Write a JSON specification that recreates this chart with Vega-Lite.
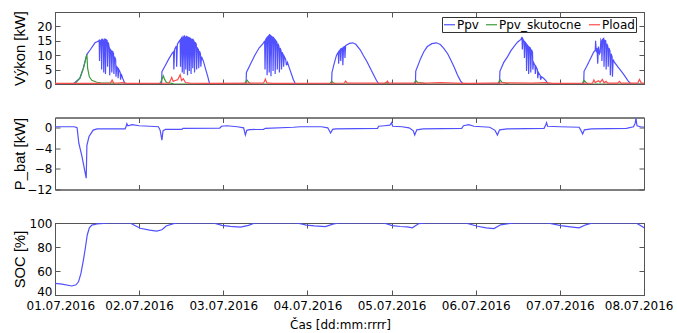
{
"$schema": "https://vega.github.io/schema/vega-lite/v6.json",
"background": "white",
"padding": {"left": 11, "top": 10, "right": 0, "bottom": 0},
"spacing": 33.5,
"bounds": "flush",
"config": {
 "view": {"stroke": "#555555", "strokeWidth": 1},
 "axis": {"domainColor": "#555555", "tickColor": "#555555", "tickSize": -5, "labelPadding": 8, "grid": false, "labelFont": "DejaVu Sans", "labelFontSize": 12, "labelColor": "black", "titleFont": "Liberation Sans", "titleFontSize": 14.8, "titleFontWeight": "normal", "titleColor": "black", "labelFlush": false, "labelOverlap": false},
 "line": {"strokeWidth": 1.2}
},
"datasets": {
 "pv": [{"h":0,"v":0},{"h":5.2,"v":0},{"h":7.1,"v":2},{"h":8.1,"v":5.5},{"h":8.9,"v":9.4},{"h":9.1,"v":10.3},{"h":10.0,"v":11.8},{"h":11.4,"v":14.3},{"h":12.3,"v":14.8},{"h":12.6,"v":15.2},{"h":12.7,"v":8},{"h":12.9,"v":15},{"h":13.2,"v":15.3},{"h":13.3,"v":5},{"h":13.5,"v":15.5},{"h":13.8,"v":15.2},{"h":13.9,"v":4},{"h":14.1,"v":15.6},{"h":14.3,"v":15.5},{"h":14.4,"v":3.5},{"h":14.6,"v":15.4},{"h":14.9,"v":15},{"h":15.0,"v":6},{"h":15.2,"v":14.5},{"h":15.5,"v":12.5},{"h":15.6,"v":3},{"h":15.8,"v":12},{"h":16.1,"v":11.5},{"h":16.2,"v":4},{"h":16.4,"v":11.5},{"h":16.7,"v":10.5},{"h":16.8,"v":3.5},{"h":17.0,"v":9.5},{"h":17.3,"v":8.5},{"h":17.4,"v":2.5},{"h":17.6,"v":6},{"h":17.9,"v":5.5},{"h":18.0,"v":2},{"h":18.2,"v":5},{"h":18.6,"v":4},{"h":18.7,"v":1.5},{"h":18.9,"v":3.5},{"h":19.3,"v":2},{"h":20.0,"v":0},
 {"h":30.4,"v":0},{"h":30.5,"v":4.3},{"h":31.5,"v":6.5},{"h":32.5,"v":8.8},{"h":33.5,"v":10.8},{"h":33.8,"v":11.2},{"h":33.9,"v":5},{"h":34.1,"v":12},{"h":34.6,"v":13.2},{"h":34.7,"v":6},{"h":34.9,"v":13.8},{"h":35.4,"v":14.8},{"h":35.7,"v":15.3},{"h":35.8,"v":6},{"h":36.0,"v":15.8},{"h":36.2,"v":16.2},{"h":36.3,"v":4},{"h":36.5,"v":16},{"h":36.7,"v":16.4},{"h":36.8,"v":3.5},{"h":37.0,"v":16.5},{"h":37.2,"v":16.2},{"h":37.3,"v":5},{"h":37.5,"v":16.5},{"h":37.7,"v":16.3},{"h":37.8,"v":3},{"h":38.0,"v":16.2},{"h":38.2,"v":16},{"h":38.3,"v":4.5},{"h":38.5,"v":16},{"h":38.7,"v":15.8},{"h":38.8,"v":3.5},{"h":39.0,"v":15.5},{"h":39.2,"v":15.5},{"h":39.3,"v":5.5},{"h":39.5,"v":15.2},{"h":39.7,"v":14.8},{"h":39.8,"v":4},{"h":40.0,"v":14.5},{"h":40.3,"v":13.8},{"h":40.4,"v":5},{"h":40.6,"v":12.5},{"h":40.9,"v":12},{"h":41.0,"v":5.5},{"h":41.2,"v":11.5},{"h":41.5,"v":10.5},{"h":41.6,"v":6},{"h":41.8,"v":9.5},{"h":42.3,"v":8},{"h":43.0,"v":5},{"h":43.6,"v":2.5},{"h":44.1,"v":0},
 {"h":54.5,"v":0},{"h":54.6,"v":4},{"h":55.8,"v":7},{"h":57.0,"v":10},{"h":58.2,"v":12.5},{"h":59.5,"v":14.3},{"h":59.8,"v":15},{"h":59.9,"v":5},{"h":60.1,"v":15.5},{"h":60.4,"v":16},{"h":60.5,"v":3},{"h":60.7,"v":16.3},{"h":61.0,"v":16.8},{"h":61.1,"v":4},{"h":61.3,"v":17},{"h":61.5,"v":16.8},{"h":61.6,"v":2.7},{"h":61.8,"v":16.5},{"h":62.1,"v":16.2},{"h":62.2,"v":4.5},{"h":62.4,"v":16},{"h":62.7,"v":15.5},{"h":62.8,"v":3.5},{"h":63.0,"v":15},{"h":63.3,"v":14.5},{"h":63.4,"v":5},{"h":63.6,"v":14},{"h":63.9,"v":13},{"h":64.0,"v":4},{"h":64.2,"v":12.5},{"h":64.5,"v":11.5},{"h":64.6,"v":5},{"h":64.8,"v":11},{"h":65.1,"v":10},{"h":65.2,"v":6},{"h":65.4,"v":9.5},{"h":65.8,"v":8.5},{"h":66.0,"v":6.5},{"h":66.3,"v":7.5},{"h":67.0,"v":5},{"h":68.0,"v":1.5},{"h":68.6,"v":0},
 {"h":78.9,"v":0},{"h":79.0,"v":4},{"h":79.6,"v":7},{"h":80.3,"v":10},{"h":80.8,"v":11},{"h":80.9,"v":7},{"h":81.1,"v":11.5},{"h":81.4,"v":12},{"h":81.5,"v":8},{"h":81.7,"v":12.3},{"h":82.0,"v":12.5},{"h":82.1,"v":6.5},{"h":82.3,"v":12.8},{"h":82.6,"v":13},{"h":82.7,"v":9},{"h":82.9,"v":13.3},{"h":83.3,"v":13.6},{"h":84.0,"v":14.1},{"h":84.9,"v":14.3},{"h":85.8,"v":13.8},{"h":87.1,"v":11.8},{"h":88.0,"v":9.8},{"h":89.0,"v":7.7},{"h":90.0,"v":5.3},{"h":90.9,"v":3.1},{"h":91.7,"v":1.2},{"h":92.4,"v":0},
 {"h":102.8,"v":0},{"h":102.9,"v":4.5},{"h":104.3,"v":8.9},{"h":105.2,"v":11.2},{"h":106.2,"v":13},{"h":107.5,"v":14},{"h":108.8,"v":14.3},{"h":109.9,"v":13.7},{"h":110.9,"v":12.4},{"h":112.0,"v":10.5},{"h":112.9,"v":8.3},{"h":113.9,"v":5.7},{"h":114.8,"v":3.1},{"h":115.7,"v":1},{"h":116.4,"v":0},
 {"h":126.8,"v":0},{"h":126.9,"v":4.4},{"h":128.0,"v":7.5},{"h":129.1,"v":9.5},{"h":130.0,"v":11.5},{"h":130.9,"v":13},{"h":131.9,"v":14.5},{"h":132.9,"v":15.5},{"h":133.2,"v":16.3},{"h":133.3,"v":12},{"h":133.5,"v":15.5},{"h":133.8,"v":14.8},{"h":133.9,"v":9},{"h":134.1,"v":14.5},{"h":134.4,"v":14},{"h":134.5,"v":4.5},{"h":134.7,"v":13.5},{"h":135.0,"v":13},{"h":135.1,"v":3.5},{"h":135.3,"v":12.8},{"h":135.6,"v":12.5},{"h":135.7,"v":4},{"h":135.9,"v":12},{"h":136.2,"v":11},{"h":136.3,"v":5},{"h":136.5,"v":7.5},{"h":136.9,"v":6.5},{"h":137.0,"v":3.5},{"h":137.2,"v":6},{"h":137.6,"v":5},{"h":137.7,"v":2},{"h":137.9,"v":4},{"h":138.4,"v":3},{"h":138.5,"v":1.5},{"h":138.8,"v":2.5},{"h":139.5,"v":1.8},{"h":140.0,"v":1.2},{"h":140.7,"v":0},
 {"h":150.8,"v":0},{"h":150.9,"v":4.4},{"h":151.6,"v":6},{"h":152.3,"v":7.7},{"h":153.0,"v":9.5},{"h":153.6,"v":11},{"h":154.1,"v":11.8},{"h":154.2,"v":15},{"h":154.4,"v":11},{"h":154.6,"v":12.5},{"h":154.8,"v":7},{"h":155.0,"v":13},{"h":155.3,"v":10.5},{"h":155.5,"v":11},{"h":155.7,"v":15.3},{"h":155.9,"v":14.8},{"h":156.0,"v":8},{"h":156.2,"v":15.5},{"h":156.5,"v":15.8},{"h":156.6,"v":6},{"h":156.8,"v":15.2},{"h":157.1,"v":15},{"h":157.2,"v":5},{"h":157.4,"v":14},{"h":157.7,"v":13},{"h":157.8,"v":6},{"h":158.0,"v":12.5},{"h":158.3,"v":11.5},{"h":158.4,"v":3},{"h":158.6,"v":10.5},{"h":158.9,"v":9.5},{"h":159.0,"v":2.5},{"h":159.2,"v":8.5},{"h":159.6,"v":7.5},{"h":160.5,"v":6},{"h":161.5,"v":4.5},{"h":162.4,"v":3},{"h":163.4,"v":1.2},{"h":164.3,"v":0},{"h":168,"v":0}],
 "sk": [{"h":0,"v":0},{"h":5.2,"v":0},{"h":6.0,"v":0.5},{"h":7.1,"v":2},{"h":8.1,"v":5.5},{"h":8.9,"v":9.4},{"h":9.1,"v":10.3},{"h":9.3,"v":5.5},{"h":9.8,"v":2.5},{"h":10.5,"v":1.3},{"h":11.9,"v":0.6},{"h":13,"v":0.4},{"h":16.5,"v":0.3},{"h":17,"v":0},{"h":29.8,"v":0},{"h":30.3,"v":1},{"h":30.9,"v":2.8},{"h":31.3,"v":1.5},{"h":31.8,"v":0.5},{"h":33,"v":0.3},{"h":34,"v":0},{"h":54,"v":0},{"h":54.4,"v":0.8},{"h":54.8,"v":1.3},{"h":55.3,"v":0.5},{"h":56,"v":0},{"h":78.4,"v":0},{"h":78.9,"v":1},{"h":79.4,"v":0.4},{"h":80,"v":0},{"h":93.8,"v":0},{"h":94.5,"v":0.6},{"h":95.2,"v":0},{"h":102.3,"v":0},{"h":102.9,"v":1.2},{"h":103.5,"v":0.5},{"h":105,"v":0.3},{"h":106,"v":0},{"h":126.3,"v":0},{"h":126.9,"v":1.5},{"h":127.5,"v":0.6},{"h":128.5,"v":0.3},{"h":129.5,"v":0},{"h":150.3,"v":0},{"h":150.9,"v":1.3},{"h":151.5,"v":0.5},{"h":152,"v":0},{"h":168,"v":0}],
 "ld": [{"h":0,"v":0.2},{"h":12,"v":0.2},{"h":15.8,"v":0.3},{"h":16.3,"v":1.4},{"h":16.7,"v":0.4},{"h":18,"v":0.3},{"h":19.5,"v":0.5},{"h":20.5,"v":0.2},{"h":32.5,"v":0.3},{"h":33.0,"v":1.5},{"h":33.3,"v":2.3},{"h":33.7,"v":0.9},{"h":34.3,"v":1.2},{"h":35.0,"v":1.5},{"h":35.7,"v":3.2},{"h":36.1,"v":1.2},{"h":36.6,"v":1.8},{"h":37.2,"v":0.5},{"h":38.5,"v":0.3},{"h":44,"v":0.2},{"h":59.5,"v":0.3},{"h":60.0,"v":1.7},{"h":60.4,"v":0.4},{"h":62,"v":0.2},{"h":82.5,"v":0.3},{"h":82.9,"v":1},{"h":83.3,"v":0.3},{"h":94.5,"v":0.3},{"h":94.8,"v":1},{"h":95.2,"v":0.3},{"h":106,"v":0.3},{"h":110,"v":0.5},{"h":114,"v":0.3},{"h":118,"v":0.2},{"h":130,"v":0.4},{"h":136,"v":0.3},{"h":140,"v":0.5},{"h":142,"v":0.2},{"h":153.3,"v":0.3},{"h":153.7,"v":1.4},{"h":154.1,"v":0.5},{"h":155.0,"v":1.1},{"h":155.5,"v":0.6},{"h":156.1,"v":1.6},{"h":156.6,"v":0.4},{"h":157.2,"v":0.9},{"h":157.6,"v":0.3},{"h":160.5,"v":0.3},{"h":161.0,"v":0.9},{"h":161.4,"v":0.3},{"h":166.2,"v":0.3},{"h":166.7,"v":1.6},{"h":167.2,"v":0.4},{"h":168,"v":0.2}],
 "bat": [{"h":0,"v":0.2},{"h":5.5,"v":0.2},{"h":6.3,"v":0},{"h":6.8,"v":-3},{"h":7.7,"v":-5.6},{"h":8.9,"v":-9.8},{"h":9.1,"v":-3.4},{"h":9.7,"v":-1.7},{"h":10.9,"v":-0.45},{"h":12,"v":-0.2},{"h":20,"v":-0.2},{"h":20.3,"v":0.3},{"h":20.5,"v":0.8},{"h":20.8,"v":0.4},{"h":22,"v":0.6},{"h":24,"v":0.4},{"h":27,"v":0.3},{"h":29.5,"v":0.2},{"h":30.0,"v":-0.5},{"h":30.5,"v":-2.4},{"h":30.8,"v":-0.6},{"h":31.5,"v":-0.3},{"h":36.2,"v":-0.3},{"h":36.5,"v":-0.1},{"h":47,"v":-0.05},{"h":47.5,"v":0.3},{"h":49,"v":0.4},{"h":52,"v":0.2},{"h":53.8,"v":0},{"h":54.3,"v":-1.4},{"h":54.7,"v":-0.5},{"h":55.5,"v":-0.35},{"h":59.5,"v":-0.3},{"h":60,"v":-0.1},{"h":68,"v":0.1},{"h":70,"v":0.2},{"h":76,"v":0.2},{"h":77.8,"v":0},{"h":78.6,"v":-1.0},{"h":79.2,"v":-0.3},{"h":80,"v":-0.2},{"h":92,"v":-0.1},{"h":92.3,"v":0.3},{"h":94,"v":0.4},{"h":95.5,"v":0.5},{"h":96,"v":1.0},{"h":96.3,"v":0.3},{"h":99,"v":0.2},{"h":101,"v":0},{"h":102.2,"v":-0.6},{"h":102.6,"v":-1.4},{"h":103.2,"v":-0.4},{"h":105,"v":-0.2},{"h":116,"v":-0.1},{"h":116.5,"v":0.4},{"h":118,"v":0.6},{"h":119.5,"v":0.3},{"h":124,"v":0.1},{"h":125.5,"v":-0.5},{"h":126.2,"v":-1.4},{"h":126.8,"v":-0.4},{"h":129,"v":-0.2},{"h":139.5,"v":-0.1},{"h":140.0,"v":0.6},{"h":140.2,"v":1.0},{"h":140.5,"v":0.3},{"h":144,"v":0.2},{"h":149.5,"v":0.1},{"h":150.0,"v":-0.5},{"h":150.5,"v":-1.2},{"h":151.0,"v":-0.4},{"h":153,"v":-0.2},{"h":163,"v":-0.1},{"h":165,"v":0.2},{"h":165.5,"v":0.9},{"h":165.7,"v":1.9},{"h":166.0,"v":0.4},{"h":167,"v":0.2},{"h":168,"v":0.15}],
 "soc": [{"h":0,"v":49.7},{"h":2,"v":49},{"h":4.8,"v":47.5},{"h":6.0,"v":48.5},{"h":6.7,"v":51},{"h":7.4,"v":58},{"h":8.1,"v":69},{"h":8.7,"v":80},{"h":9.2,"v":90},{"h":9.8,"v":96},{"h":10.5,"v":98.3},{"h":12,"v":99.2},{"h":13.8,"v":99.7},{"h":15,"v":100},{"h":21.4,"v":100},{"h":24.3,"v":95.6},{"h":27,"v":94},{"h":29,"v":93.3},{"h":30.5,"v":94.4},{"h":31.7,"v":97.5},{"h":33.8,"v":99.5},{"h":35,"v":100},{"h":45.2,"v":100},{"h":47.6,"v":98},{"h":50,"v":97.2},{"h":52.9,"v":96.6},{"h":55.2,"v":98},{"h":57,"v":100},{"h":69,"v":100},{"h":71.7,"v":98.2},{"h":74,"v":97.6},{"h":77.1,"v":97},{"h":79.5,"v":99.3},{"h":81,"v":100},{"h":93.8,"v":100},{"h":96.2,"v":97.8},{"h":98.5,"v":97.1},{"h":100.5,"v":96.7},{"h":101.9,"v":96},{"h":103.8,"v":99.5},{"h":105.7,"v":100},{"h":117.1,"v":100},{"h":120.5,"v":97.3},{"h":123,"v":96},{"h":125.2,"v":95.3},{"h":127.1,"v":98.5},{"h":130,"v":99.7},{"h":131,"v":100},{"h":140.5,"v":100},{"h":144.3,"v":97.8},{"h":147,"v":96.8},{"h":149.5,"v":96},{"h":151.4,"v":98.5},{"h":153.3,"v":100},{"h":165.7,"v":100},{"h":167,"v":98},{"h":168,"v":96}]
},
"vconcat": [
 {
  "width": 589, "height": 72,
  "layer": [
   {"data": {"name": "pv"}, "mark": {"type": "line", "clip": true},
    "encoding": {
     "x": {"field": "h", "type": "quantitative", "scale": {"domain": [0, 168], "nice": false, "zero": false}, "axis": {"orient": "bottom", "values": [0,24,48,72,96,120,144,168], "labels": false, "title": null}},
     "y": {"field": "v", "type": "quantitative", "scale": {"domain": [0, 25], "nice": false}, "axis": {"orient": "left", "values": [0,5,10,15,20], "title": "Výkon [kW]", "titleX": -28}},
     "color": {"datum": "Ppv", "type": "nominal", "scale": {"domain": ["Ppv", "Ppv_skutocne", "Pload"], "range": ["#5050ff", "#3c9c3c", "#ff4c4c"]},
      "legend": {"orient": "none", "legendX": 387, "legendY": 5, "direction": "horizontal", "title": null, "strokeColor": "#333333", "fillColor": "white", "padding": 1, "labelFont": "DejaVu Sans", "labelFontSize": 12, "labelColor": "black", "symbolType": "stroke", "symbolSize": 121, "symbolStrokeWidth": 1.2, "labelOffset": 1, "columnPadding": 4}}
    }},
   {"data": {"name": "sk"}, "mark": {"type": "line", "clip": true},
    "encoding": {
     "x": {"field": "h", "type": "quantitative", "axis": {"orient": "top", "values": [0,24,48,72,96,120,144,168], "labels": false, "title": null}},
     "y": {"field": "v", "type": "quantitative", "axis": {"orient": "right", "values": [0,5,10,15,20], "labels": false, "title": null}},
     "color": {"datum": "Ppv_skutocne", "type": "nominal"}
    }},
   {"data": {"name": "ld"}, "mark": {"type": "line", "clip": true},
    "encoding": {
     "x": {"field": "h", "type": "quantitative", "axis": null},
     "y": {"field": "v", "type": "quantitative", "axis": null},
     "color": {"datum": "Pload", "type": "nominal"}
    }}
  ],
  "resolve": {"axis": {"x": "independent", "y": "independent"}}
 },
 {
  "width": 589, "height": 72,
  "data": {"name": "bat"},
  "layer": [
   {"mark": {"type": "line", "color": "#5050ff", "clip": true},
    "encoding": {
     "x": {"field": "h", "type": "quantitative", "scale": {"domain": [0, 168], "nice": false, "zero": false}, "axis": {"orient": "bottom", "values": [0,24,48,72,96,120,144,168], "labels": false, "title": null}},
     "y": {"field": "v", "type": "quantitative", "scale": {"domain": [-12, 2], "nice": false}, "axis": {"orient": "left", "values": [-12,-8,-4,0], "title": "P_bat [kW]", "titleX": -28}}
    }},
   {"mark": {"type": "line", "opacity": 0},
    "encoding": {
     "x": {"field": "h", "type": "quantitative", "axis": {"orient": "top", "values": [0,24,48,72,96,120,144,168], "labels": false, "title": null}},
     "y": {"field": "v", "type": "quantitative", "axis": {"orient": "right", "values": [-12,-8,-4,0], "labels": false, "title": null}}
    }}
  ],
  "resolve": {"axis": {"x": "independent", "y": "independent"}}
 },
 {
  "width": 589, "height": 72,
  "data": {"name": "soc"},
  "layer": [
   {"mark": {"type": "line", "color": "#5050ff", "clip": true},
    "encoding": {
     "x": {"field": "h", "type": "quantitative", "scale": {"domain": [0, 168], "nice": false, "zero": false}, "axis": {"orient": "bottom", "values": [0,24,48,72,96,120,144,168], "labelExpr": "['01.07.2016','02.07.2016','03.07.2016','04.07.2016','05.07.2016','06.07.2016','07.07.2016','08.07.2016'][round(datum.value/24)]", "labelPadding": 10, "labelFlush": true, "labelFlushOffset": 29, "title": "Čas [dd:mm:rrrr]", "titleFont": "DejaVu Sans", "titleFontSize": 12, "titleX": 285, "titlePadding": 8}},
     "y": {"field": "v", "type": "quantitative", "scale": {"domain": [40, 100], "nice": false, "zero": false}, "axis": {"orient": "left", "values": [40,60,80,100], "labelOffset": {"condition": {"test": "datum.value == 40", "value": -4}, "value": 0}, "title": "SOC [%]", "titleX": -28}}
    }},
   {"mark": {"type": "line", "opacity": 0},
    "encoding": {
     "x": {"field": "h", "type": "quantitative", "axis": {"orient": "top", "values": [0,24,48,72,96,120,144,168], "labels": false, "title": null}},
     "y": {"field": "v", "type": "quantitative", "axis": {"orient": "right", "values": [40,60,80,100], "labels": false, "title": null}}
    }}
  ],
  "resolve": {"axis": {"x": "independent", "y": "independent"}}
 }
]
}
